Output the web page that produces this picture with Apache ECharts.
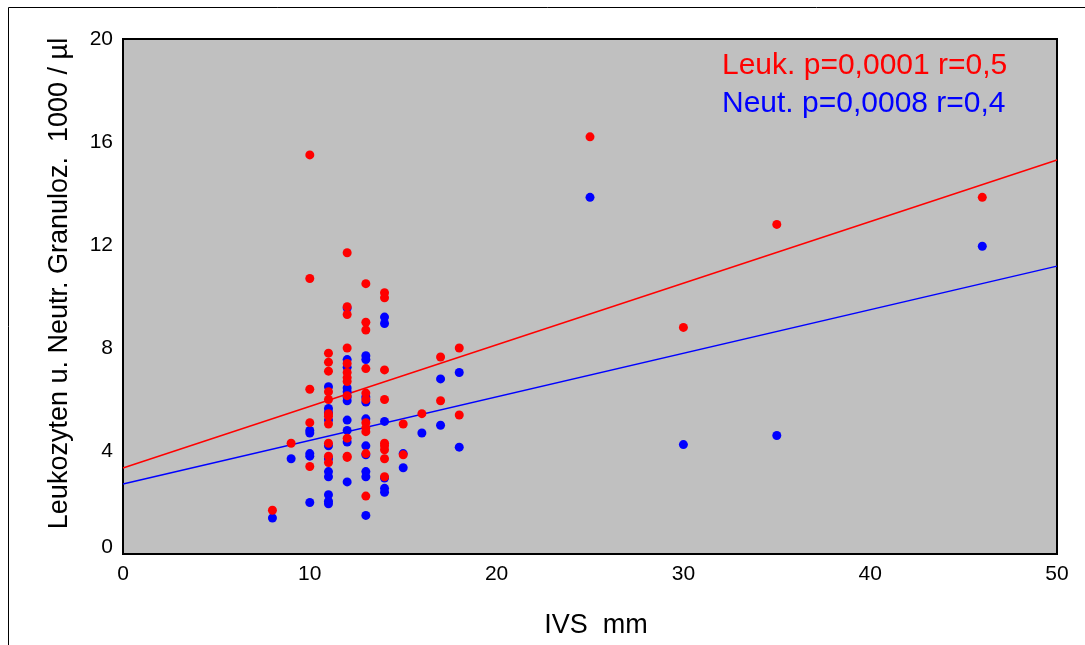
<!DOCTYPE html>
<html>
<head>
<meta charset="utf-8">
<title>IVS vs Leukozyten</title>
<script src="https://cdn.jsdelivr.net/npm/echarts@6.0.0/dist/echarts.min.js"></script>
<style>
  html, body { margin: 0; padding: 0; background: #fff; }
  #chart { width: 1085px; height: 645px; }
</style>
</head>
<body>
<div id="chart"></div>
<script>
// IVS (mm) groups
const ivsLevels = [8, 9, 10, 11, 12, 13, 14, 15, 16, 17, 18, 25, 30, 35, 46]

// Leukozyten (1000/µl) per IVS level
const leukByIvs = [
  [1.7],
  [4.3],
  [15.5, 10.7, 6.4, 5.1, 3.4],
  [7.8, 7.45, 7.1, 6.3, 6.0, 5.45, 5.35, 5.05, 4.3, 3.8, 3.55],
  [11.7, 9.6, 9.3, 8.0, 7.4, 7.05, 6.85, 6.7, 6.15, 4.5, 3.8, 3.75],
  [10.5, 9.0, 8.7, 7.2, 6.25, 6.0, 5.1, 4.9, 4.75, 3.9, 2.25],
  [10.15, 9.95, 7.15, 6.0, 4.3, 4.2, 4.05, 3.7, 3.0],
  [5.05, 3.85],
  [5.45],
  [7.65, 5.95],
  [8.0, 5.4],
  [16.2],
  [8.8],
  [12.8],
  [13.85]
]

// Neutrophile Granulozyten (1000/µl) per IVS level
const neutByIvs = [
  [1.4],
  [3.7],
  [4.8, 4.7, 3.9, 3.8, 2.0],
  [6.5, 5.65, 5.5, 5.2, 4.2, 3.7, 3.2, 3.0, 2.3, 2.05, 1.95],
  [9.55, 7.55, 7.25, 6.45, 6.3, 6.1, 5.95, 5.2, 4.8, 4.35, 2.8],
  [7.7, 7.55, 6.1, 5.9, 5.25, 4.2, 3.85, 3.2, 3.0, 1.5],
  [9.2, 8.95, 5.15, 2.95, 2.55, 2.4],
  [3.9, 3.35],
  [4.7],
  [6.8, 5.0],
  [7.05, 4.15],
  [13.85],
  [4.25],
  [4.6],
  [11.95]
]

// regression lines (ends at IVS 0 and 50)
const fitIvs = [0, 50]
const leukFit = [3.34, 15.3]
const neutFit = [2.72, 11.18]

const xTicks = [0, 10, 20, 30, 40, 50]
const yTicks = [0, 4, 8, 12, 16, 20]

const leukLabel = 'Leuk. p=0,0001 r=0,5'
const neutLabel = 'Neut. p=0,0008 r=0,4'

const toPoints = (groups) => {
  const pts = []
  groups.forEach((vals, i) => {
    vals.forEach(v => pts.push([ivsLevels[i], v]))
  })
  return pts
}
const fitLine = (ys) => fitIvs.map((x, i) => [x, ys[i]])

const font = "'Liberation Sans', Arial, sans-serif"
const chart = echarts.init(document.getElementById('chart'))

const option = {
  animation: false,
  textStyle: { fontFamily: font },
  grid: {
    left: 123,
    right: 28,
    top: 39,
    bottom: 91,
    show: true,
    backgroundColor: '#c0c0c0',
    borderColor: '#000',
    borderWidth: 2
  },
  xAxis: {
    type: 'value',
    min: xTicks[0],
    max: xTicks[xTicks.length - 1],
    interval: 10,
    name: 'IVS  mm',
    nameLocation: 'middle',
    nameGap: 58,
    nameTextStyle: { color: '#000', fontSize: 27, fontFamily: font, padding: [0, 0, 0, 12] },
    axisLine: { show: false },
    axisTick: { show: false },
    splitLine: { show: false },
    axisLabel: { color: '#000', fontSize: 21, margin: 10, fontFamily: font }
  },
  yAxis: {
    type: 'value',
    min: yTicks[0],
    max: yTicks[yTicks.length - 1],
    interval: 4,
    name: 'Leukozyten u. Neutr. Granuloz.  1000 / µl',
    nameLocation: 'middle',
    nameGap: 50,
    nameTextStyle: { color: '#000', fontSize: 27, fontFamily: font, padding: [0, 0, 0, 26] },
    axisLine: { show: false },
    axisTick: { show: false },
    splitLine: { show: false },
    axisLabel: {
      color: '#000',
      fontSize: 21,
      margin: 10,
      fontFamily: font,
      formatter: v => v === 0 ? '{z|0}' : String(v),
      rich: { z: { fontSize: 21, color: '#000', fontFamily: font, padding: [0, 0, 14, 0] } }
    }
  },
  graphic: [
    {
      type: 'rect',
      z: -10,
      shape: { x: 8.5, y: 7.5, width: 1200, height: 800 },
      style: { fill: 'none', stroke: '#000', lineWidth: 1 }
    },
    {
      type: 'text',
      left: 722,
      top: 51,
      style: { text: leukLabel, fill: '#ff0000', font: '30px ' + font }
    },
    {
      type: 'text',
      left: 722,
      top: 89,
      style: { text: neutLabel, fill: '#0000ff', font: '30px ' + font }
    }
  ],
  series: [
    {
      type: 'line',
      data: fitLine(leukFit),
      symbol: 'none',
      lineStyle: { color: '#ff0000', width: 1.5 },
      z: 1
    },
    {
      type: 'line',
      data: fitLine(neutFit),
      symbol: 'none',
      lineStyle: { color: '#0000ff', width: 1.5 },
      z: 1
    },
    {
      type: 'scatter',
      data: toPoints(neutByIvs),
      symbolSize: 9,
      itemStyle: { color: '#0000ff', opacity: 1 },
      z: 2
    },
    {
      type: 'scatter',
      data: toPoints(leukByIvs),
      symbolSize: 9,
      itemStyle: { color: '#ff0000', opacity: 1 },
      z: 3
    }
  ]
}

chart.setOption(option)
</script>
</body>
</html>
